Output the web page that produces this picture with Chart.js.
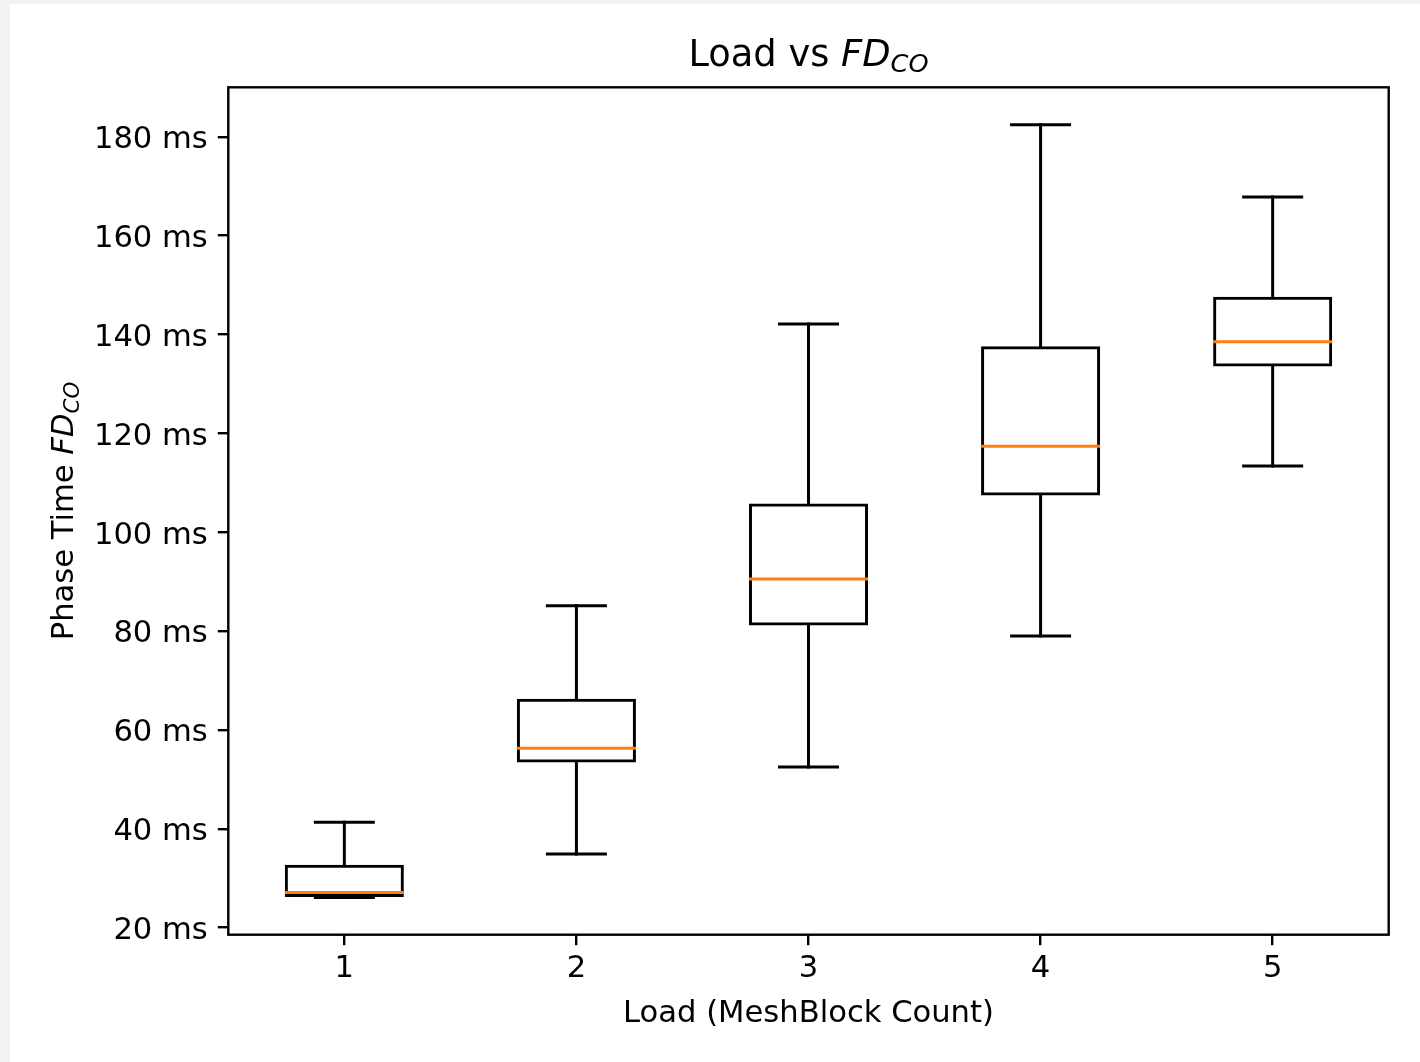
<!DOCTYPE html>
<html>
<head>
<meta charset="utf-8">
<title>Load vs FDCO</title>
<script src="https://cdn.jsdelivr.net/npm/chart.js@4.4.0/dist/chart.umd.min.js"></script>
<style>
    html, body { margin: 0; padding: 0; background: #f2f2f2; }
    #wrap { position: absolute; left: 10px; top: 4px; width: 1410px; height: 1058px; background: #fff; }
    canvas { display: block; }
</style>
</head>
<body>
<div id="wrap"><canvas id="boxChart" width="1410" height="1058"></canvas></div>
<script>
// Box plot values (ms)
const loads = ['1', '2', '3', '4', '5'];
const whiskerLow = [26.1, 34.9, 52.5, 79.0, 113.4];
const q1 = [26.5, 53.7, 81.4, 107.7, 133.8];
const median = [27.1, 56.3, 90.5, 117.4, 138.5];
const q3 = [32.4, 66.0, 105.5, 137.3, 147.3];
const whiskerHigh = [41.3, 85.1, 142.1, 182.4, 167.8];
const yTickValues = [20, 40, 60, 80, 100, 120, 140, 160, 180];

const FONT = "'DejaVu Sans', 'Liberation Sans', sans-serif";

// draws a run of text pieces (normal / italic / subscript) centred on (x, y)
function drawRichText(ctx, parts, x, y, rotate) {
    ctx.save();
    ctx.translate(x, y);
    if (rotate) ctx.rotate(-Math.PI / 2);
    ctx.fillStyle = '#000';
    ctx.textBaseline = 'alphabetic';
    ctx.textAlign = 'left';
    let total = 0;
    parts.forEach(p => {
        ctx.font = p.font;
        p.w = ctx.measureText(p.text).width;
        total += p.w;
    });
    let cx = -total / 2;
    parts.forEach(p => {
        ctx.font = p.font;
        ctx.fillText(p.text, cx, p.dy || 0);
        cx += p.w;
    });
    ctx.restore();
}

const boxPlotPlugin = {
    id: 'boxPlotExtras',
    afterDatasetsDraw(chart) {
        const ctx = chart.ctx;
        const x = chart.scales.x;
        const y = chart.scales.y;
        const step = x.getPixelForValue(1) - x.getPixelForValue(0);
        const capHalf = step * 0.125;
        const boxHalf = step * 0.25;

        ctx.save();
        ctx.beginPath();
        ctx.rect(chart.chartArea.left, chart.chartArea.top,
            chart.chartArea.right - chart.chartArea.left,
            chart.chartArea.bottom - chart.chartArea.top);
        ctx.clip();

        ctx.strokeStyle = '#000';
        ctx.lineWidth = 3;
        ctx.lineCap = 'square';
        loads.forEach((_, i) => {
            const cx = x.getPixelForValue(i);
            // whiskers
            ctx.beginPath();
            ctx.moveTo(cx, y.getPixelForValue(q1[i]) + 1.5);
            ctx.lineTo(cx, y.getPixelForValue(whiskerLow[i]));
            ctx.moveTo(cx, y.getPixelForValue(q3[i]) - 1.5);
            ctx.lineTo(cx, y.getPixelForValue(whiskerHigh[i]));
            ctx.stroke();
            // caps
            ctx.beginPath();
            ctx.moveTo(cx - capHalf, y.getPixelForValue(whiskerLow[i]));
            ctx.lineTo(cx + capHalf, y.getPixelForValue(whiskerLow[i]));
            ctx.moveTo(cx - capHalf, y.getPixelForValue(whiskerHigh[i]));
            ctx.lineTo(cx + capHalf, y.getPixelForValue(whiskerHigh[i]));
            ctx.stroke();
        });

        // medians
        ctx.strokeStyle = '#ff7f0e';
        loads.forEach((_, i) => {
            const cx = x.getPixelForValue(i);
            const my = y.getPixelForValue(median[i]);
            ctx.beginPath();
            ctx.moveTo(cx - boxHalf, my);
            ctx.lineTo(cx + boxHalf, my);
            ctx.stroke();
        });
        ctx.restore();

        // axes frame
        const a = chart.chartArea;
        ctx.save();
        ctx.strokeStyle = '#000';
        ctx.lineWidth = 2.4;
        ctx.strokeRect(a.left, a.top, a.right - a.left, a.bottom - a.top);
        ctx.restore();
    },
    afterDraw(chart) {
        const ctx = chart.ctx;
        const a = chart.chartArea;
        const midX = (a.left + a.right) / 2;
        const midY = (a.top + a.bottom) / 2;

        drawRichText(ctx, [
            { text: 'Load vs ', font: `36.8px ${FONT}` },
            { text: 'FD', font: `italic 36.8px ${FONT}` },
            { text: 'CO', font: `italic 25.6px ${FONT}`, dy: 6.5 }
        ], midX, 61.7, false);

        drawRichText(ctx, [
            { text: 'Load (MeshBlock Count)', font: `30.6px ${FONT}` }
        ], midX, 1018.3, false);

        drawRichText(ctx, [
            { text: 'Phase Time ', font: `30.6px ${FONT}` },
            { text: 'FD', font: `italic 30.6px ${FONT}` },
            { text: 'CO', font: `italic 21.4px ${FONT}`, dy: 5.5 }
        ], 63, midY, true);
    }
};

new Chart(document.getElementById('boxChart').getContext('2d'), {
    type: 'bar',
    data: {
        labels: loads,
        datasets: [{
            label: 'FD_CO',
            data: loads.map((_, i) => [q1[i], q3[i]]),
            backgroundColor: '#ffffff',
            borderColor: '#000000',
            borderWidth: 3,
            borderSkipped: false,
            inflateAmount: 1.5,
            barPercentage: 0.5,
            categoryPercentage: 1.0
        }]
    },
    options: {
        responsive: false,
        animation: false,
        layout: { padding: { left: 0, top: 83.3, right: 31.3, bottom: 0 } },
        plugins: {
            legend: { display: false },
            tooltip: { enabled: false },
            title: { display: false }
        },
        scales: {
            x: {
                offset: true,
                grid: {
                    offset: false,
                    drawOnChartArea: false,
                    drawTicks: true,
                    tickLength: 10.5,
                    lineWidth: 2.4,
                    color: '#000'
                },
                border: { display: false },
                ticks: {
                    color: '#000',
                    padding: 5.5,
                    font: { family: FONT, size: 30.6 }
                },
                afterFit(scale) { scale.height = 127.3; }
            },
            y: {
                min: 18.56,
                max: 190.0,
                grid: {
                    drawOnChartArea: false,
                    drawTicks: true,
                    tickLength: 10.5,
                    lineWidth: 2.4,
                    color: '#000'
                },
                border: { display: false },
                ticks: {
                    color: '#000',
                    padding: 10,
                    // empty first line nudges the label a few px down, like matplotlib's
                    font: { family: FONT, size: 30.6, lineHeight: '7px' },
                    callback: v => ['', v + ' ms']
                },
                afterBuildTicks(scale) {
                    scale.ticks = yTickValues.map(v => ({ value: v }));
                },
                afterFit(scale) { scale.width = 218.3; }
            }
        }
    },
    plugins: [boxPlotPlugin]
});
</script>
</body>
</html>
